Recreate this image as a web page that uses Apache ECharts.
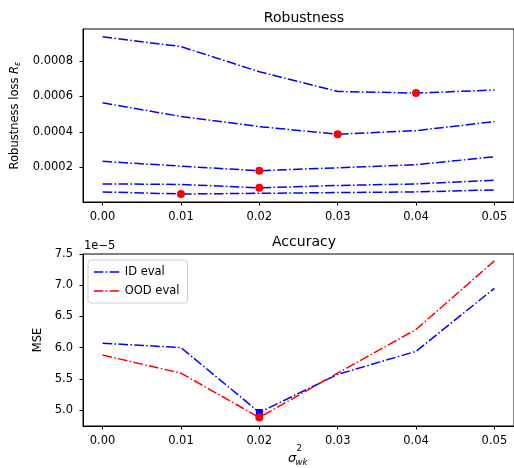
<!DOCTYPE html>
<html><head><meta charset="utf-8">
<script src="https://cdn.jsdelivr.net/npm/echarts@6/dist/echarts.min.js"></script>
<style>html,body{margin:0;padding:0;background:#fff}#c{width:514px;height:468px}</style>
</head><body><div id="c"></div><script>
const xValues = [0.00, 0.01, 0.02, 0.03, 0.04, 0.05];
const xTicks = [0.00, 0.01, 0.02, 0.03, 0.04, 0.05];
const robust1 = [0.000936, 0.000881, 0.000739, 0.000628, 0.000619, 0.000636];
const robust2 = [0.000564, 0.000487, 0.000430, 0.000387, 0.000407, 0.000458];
const robust3 = [0.000234, 0.000207, 0.000181, 0.000198, 0.000215, 0.000260];
const robust4 = [0.000107, 0.000104, 0.000085, 0.000098, 0.000107, 0.000128];
const robust5 = [0.000062, 0.000050, 0.000054, 0.000058, 0.000062, 0.000073];
const robustTicks = [0.0002, 0.0004, 0.0006, 0.0008];
const idEval = [6.07e-5, 6.00e-5, 4.96e-5, 5.57e-5, 5.94e-5, 6.95e-5];
const oodEval = [5.88e-5, 5.59e-5, 4.88e-5, 5.59e-5, 6.29e-5, 7.39e-5];
const mseTicks = [5.0e-5, 5.5e-5, 6.0e-5, 6.5e-5, 7.0e-5, 7.5e-5];

const FONT = 'DejaVu Sans';
const BLUE = '#0000ff', RED = '#ff0000';
const DASHDOT = [9.6, 2.4, 1.5, 2.4];

function pairs(arr) { return xValues.map((x, i) => [x, arr[i]]); }
function minPoint(arr) {
  let k = 0;
  arr.forEach((v, i) => { if (v < arr[k]) k = i; });
  return [[xValues[k], arr[k]]];
}
function lineSeries(arr, color, idx, name) {
  return {
    type: 'line', name: name, xAxisIndex: idx, yAxisIndex: idx,
    data: pairs(arr), symbol: 'none', silent: true, animation: false,
    lineStyle: { color: color, width: 1.5, type: DASHDOT },
    itemStyle: { color: color }, z: 2
  };
}
function markerSeries(arr, color, idx, shape, size) {
  return {
    type: 'scatter', xAxisIndex: idx, yAxisIndex: idx, data: minPoint(arr),
    symbol: shape, symbolSize: size, itemStyle: { color: color, opacity: 1 },
    silent: true, animation: false, z: 5
  };
}
function xAxis(idx) {
  return {
    type: 'value', gridIndex: idx, min: -0.0025, max: 0.0525,
    splitLine: { show: false },
    axisLine: { show: true, onZero: false, lineStyle: { color: '#000', width: 1 } },
    axisTick: { show: true, inside: false, length: 3.5, customValues: xTicks, lineStyle: { color: '#000' } },
    axisLabel: { customValues: xTicks, margin: 9, color: '#000', fontFamily: FONT, fontSize: 11.5,
      formatter: v => v.toFixed(2) }
  };
}
const robustRich = {
  n: { fontFamily: FONT, fontSize: 11.5, color: '#000' },
  r: { fontFamily: FONT, fontSize: 11.5, color: '#000', fontStyle: 'italic' },
  e: { fontFamily: FONT, fontSize: 8, color: '#000', fontStyle: 'italic', verticalAlign: 'bottom', padding: [6, 0, 0, 0] }
};

const chart = echarts.init(document.getElementById('c'), null, { renderer: 'canvas' });
chart.setOption({
  backgroundColor: '#fff',
  animation: false,
  title: [
    { text: 'Robustness', left: 299, textAlign: 'center', top: 6,
      textStyle: { fontFamily: FONT, fontSize: 14, fontWeight: 'normal', color: '#000' } },
    { text: 'Accuracy', left: 299, textAlign: 'center', top: 230,
      textStyle: { fontFamily: FONT, fontSize: 14, fontWeight: 'normal', color: '#000' } }
  ],
  grid: [
    { left: 83, top: 29, width: 433, height: 173, show: true, borderColor: '#000', borderWidth: 1, backgroundColor: 'transparent' },
    { left: 83, top: 254, width: 433, height: 172, show: true, borderColor: '#000', borderWidth: 1, backgroundColor: 'transparent' }
  ],
  xAxis: [xAxis(0), xAxis(1)],
  yAxis: [
    { type: 'value', gridIndex: 0, min: 0.000005, max: 0.00098,
      splitLine: { show: false },
      axisLine: { show: true, onZero: false, lineStyle: { color: '#000', width: 1 } },
      axisTick: { show: true, inside: false, length: 3.5, customValues: robustTicks, lineStyle: { color: '#000' } },
      axisLabel: { customValues: robustTicks, margin: 10, color: '#000', fontFamily: FONT, fontSize: 11.5,
        formatter: v => v.toFixed(4) },
      name: '{n|Robustness loss }{r|R}{e|ε}', nameLocation: 'middle', nameRotate: 90, nameGap: 60,
      nameTextStyle: { rich: robustRich }
    },
    { type: 'value', gridIndex: 1, min: 4.743e-5, max: 7.5e-5,
      splitLine: { show: false },
      axisLine: { show: true, onZero: false, lineStyle: { color: '#000', width: 1 } },
      axisTick: { show: true, inside: false, length: 3.5, customValues: mseTicks, lineStyle: { color: '#000' } },
      axisLabel: { customValues: mseTicks, margin: 10, color: '#000', fontFamily: FONT, fontSize: 11.5,
        formatter: v => (v * 1e5).toFixed(1) },
      name: 'MSE', nameLocation: 'middle', nameRotate: 90, nameGap: 33,
      nameTextStyle: { fontFamily: FONT, fontSize: 11.5, color: '#000' }
    }
  ],
  legend: {
    data: ['ID eval', 'OOD eval'], left: 88, top: 260, orient: 'vertical',
    padding: [6, 8, 6, 5], itemGap: 7, itemWidth: 26, itemHeight: 10,
    borderColor: '#d0d0d0', borderWidth: 1, borderRadius: 3, backgroundColor: 'rgba(255,255,255,0.8)',
    itemStyle: { opacity: 0 },
    lineStyle: { type: DASHDOT, width: 1.5 },
    textStyle: { fontFamily: FONT, fontSize: 11.5, color: '#000' },
    selectedMode: false
  },
  graphic: [
    { type: 'text', x: 84, y: 240, style: { text: '1e−5', fontFamily: FONT, fontSize: 11.5, fill: '#000' } },
    { type: 'text', x: 288, y: 452, style: { text: 'σ', fontFamily: FONT, fontSize: 13, fontStyle: 'italic', fill: '#000' } },
    { type: 'text', x: 296.5, y: 444.5, style: { text: '2', fontFamily: FONT, fontSize: 8.5, fill: '#000' } },
    { type: 'text', x: 295.5, y: 458, style: { text: 'wk', fontFamily: FONT, fontSize: 8.5, fontStyle: 'italic', fill: '#000' } }
  ],
  series: [
    lineSeries(robust1, BLUE, 0), lineSeries(robust2, BLUE, 0), lineSeries(robust3, BLUE, 0),
    lineSeries(robust4, BLUE, 0), lineSeries(robust5, BLUE, 0),
    markerSeries(robust1, RED, 0, 'circle', 8), markerSeries(robust2, RED, 0, 'circle', 8),
    markerSeries(robust3, RED, 0, 'circle', 8), markerSeries(robust4, RED, 0, 'circle', 8),
    markerSeries(robust5, RED, 0, 'circle', 8),
    lineSeries(idEval, BLUE, 1, 'ID eval'), lineSeries(oodEval, RED, 1, 'OOD eval'),
    markerSeries(idEval, BLUE, 1, 'rect', 7), markerSeries(oodEval, RED, 1, 'circle', 8)
  ]
});
</script></body></html>
